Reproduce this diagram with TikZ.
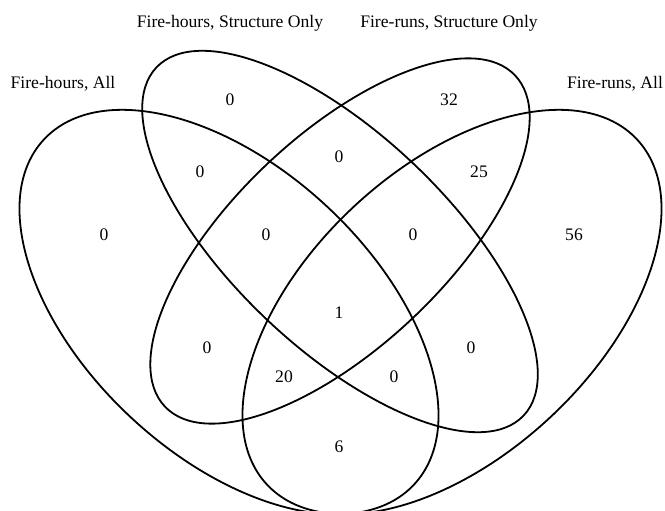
\documentclass[tikz,border=0pt]{standalone}
\usepackage{fontspec}
\setmainfont{Liberation Serif}
\begin{document}
\begin{tikzpicture}[x=1bp,y=-1bp,
  setline/.style={line width=1.8bp, black},
  lbl/.style={font=\fontsize{17.6bp}{20bp}\selectfont, inner sep=0pt, anchor=center},
  num/.style={font=\fontsize{17.6bp}{20bp}\selectfont, inner sep=0pt, anchor=center}]
\useasboundingbox (0,0) rectangle (665,511);
\clip (0,0) rectangle (665,511);
% outer left: Fire-hours, All
\draw[setline, rotate around={-43:(229,312)}] (229,312) ellipse [x radius=253bp, y radius=144bp];
% outer right: Fire-runs, All
\draw[setline, rotate around={43:(452,312)}] (452,312) ellipse [x radius=253bp, y radius=144bp];
% inner left: Fire-hours, Structure Only
\draw[setline, rotate around={-43.5:(340,241.5)}] (340,241.5) ellipse [x radius=253bp, y radius=107bp];
% inner right: Fire-runs, Structure Only
\draw[setline, rotate around={43.4:(340,241)}] (340,241) ellipse [x radius=241bp, y radius=106bp];
% set labels
\node[lbl] (tHS) at (230,23) {Fire-hours, Structure Only};
\node[lbl] (tRS) at (449,23) {Fire-runs, Structure Only};
\node[lbl] (tHA) at (63,84) {Fire-hours, All};
\node[lbl] (tRA) at (615,84) {Fire-runs, All};
% counts
\node[num] (n1) at (230,100) {0};
\node[num] (n2) at (449,100) {32};
\node[num] (n3) at (200,172) {0};
\node[num] (n4) at (339,157) {0};
\node[num] (n5) at (479,172) {25};
\node[num] (n6) at (104,235) {0};
\node[num] (n7) at (266,235) {0};
\node[num] (n8) at (413,235) {0};
\node[num] (n9) at (574,235) {56};
\node[num] (n10) at (339,313) {1};
\node[num] (n11) at (207,348) {0};
\node[num] (n12) at (471,348) {0};
\node[num] (n13) at (284,377) {20};
\node[num] (n14) at (394,377) {0};
\node[num] (n15) at (339,447) {6};
\end{tikzpicture}
\end{document}
